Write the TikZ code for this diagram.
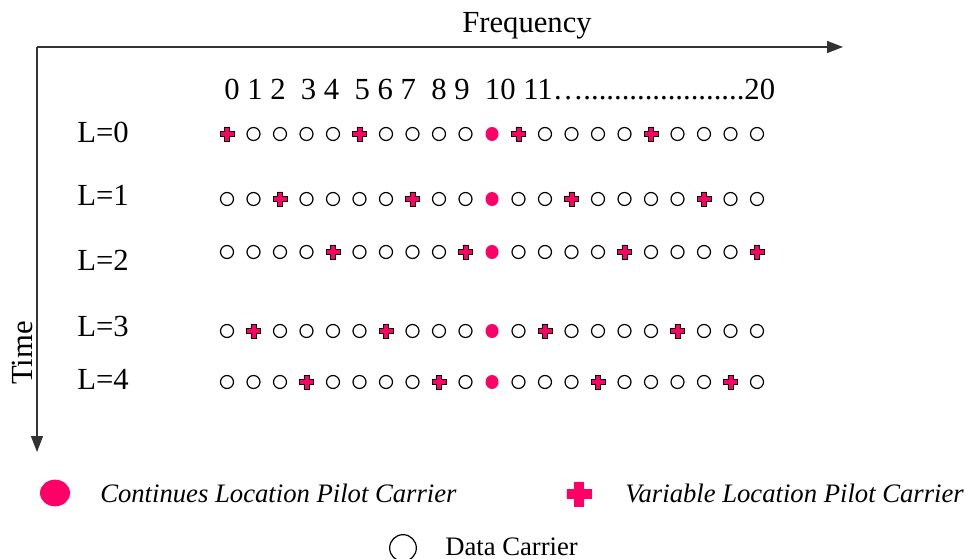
\documentclass[tikz,border=0pt]{standalone}
\usepackage{fontspec}
\setmainfont{Liberation Serif}
\usetikzlibrary{shapes.geometric,arrows.meta}
\definecolor{pilot}{RGB}{255,0,102}

\begin{document}
\begin{tikzpicture}
[every node/.style={inner sep=0pt},
 datac/.style={circle, minimum size=9.75pt, line width=0.9pt, draw=black},
 pilotc/.style={ellipse, minimum width=9.75pt, minimum height=10.5pt, fill=pilot},
 varfill/.style={fill=pilot, draw=black, line width=0.6pt},
 varplus/.pic={\coordinate (-c) at (0pt,0pt);
   \path[varfill] (-5.25pt,-1.9pt) -- (-1.9pt,-1.9pt) -- (-1.9pt,-5.25pt) -- (1.9pt,-5.25pt) -- (1.9pt,-1.9pt) -- (5.25pt,-1.9pt)
     -- (5.25pt,1.9pt) -- (1.9pt,1.9pt) -- (1.9pt,5.25pt) -- (-1.9pt,5.25pt) -- (-1.9pt,1.9pt) -- (-5.25pt,1.9pt) -- cycle;},
 axis/.style={line width=1pt, draw=black!80, -{Triangle[length=12pt, width=9pt]}},
 labeltext/.style={font=\fontsize{23}{28}\selectfont},
 legendtext/.style={font=\fontsize{20}{24}\selectfont}]
\useasboundingbox (0pt,0pt) rectangle (724.5pt,-419.25pt);
% axes
\coordinate (origin) at (27.75pt, -35.25pt);
\coordinate (freqend) at (632.25pt, -35.25pt);
\coordinate (timeend) at (27.75pt, -339.0pt);
\draw [axis] (origin) to (freqend);
\draw [axis] (origin) to (timeend);
\node (freq) [labeltext, anchor=base] at (395.25pt, -24.75pt) {Frequency};
\node (time) [labeltext, anchor=base, rotate=90] at (24.0pt, -264.75pt) {Time};
\node (index) [labeltext, anchor=base west] at (168.0pt, -75.0pt) {0 1 2\ \ 3 4\ \ 5 6 7\ \ 8 9\ \ 10 11….....................20};
% symbol rows
\node (L0) [labeltext, anchor=west] at (57.75pt, -99.0pt) {L=0};
\node (L1) [labeltext, anchor=west] at (57.75pt, -146.25pt) {L=1};
\node (L2) [labeltext, anchor=west] at (57.75pt, -195.0pt) {L=2};
\node (L3) [labeltext, anchor=west] at (57.75pt, -244.5pt) {L=3};
\node (L4) [labeltext, anchor=west] at (57.75pt, -284.25pt) {L=4};
% L=0
\pic (r0-0) at (170.25pt, -100.5pt) {varplus};
\node (r0-1) [datac] at (190.125pt, -100.5pt) {};
\node (r0-2) [datac] at (210.0pt, -100.5pt) {};
\node (r0-3) [datac] at (229.875pt, -100.5pt) {};
\node (r0-4) [datac] at (249.75pt, -100.5pt) {};
\pic (r0-5) at (269.625pt, -100.5pt) {varplus};
\node (r0-6) [datac] at (289.5pt, -100.5pt) {};
\node (r0-7) [datac] at (309.375pt, -100.5pt) {};
\node (r0-8) [datac] at (329.25pt, -100.5pt) {};
\node (r0-9) [datac] at (349.125pt, -100.5pt) {};
\node (r0-10) [pilotc] at (369.0pt, -100.5pt) {};
\pic (r0-11) at (388.875pt, -100.5pt) {varplus};
\node (r0-12) [datac] at (408.75pt, -100.5pt) {};
\node (r0-13) [datac] at (428.625pt, -100.5pt) {};
\node (r0-14) [datac] at (448.5pt, -100.5pt) {};
\node (r0-15) [datac] at (468.375pt, -100.5pt) {};
\pic (r0-16) at (488.25pt, -100.5pt) {varplus};
\node (r0-17) [datac] at (508.125pt, -100.5pt) {};
\node (r0-18) [datac] at (528.0pt, -100.5pt) {};
\node (r0-19) [datac] at (547.875pt, -100.5pt) {};
\node (r0-20) [datac] at (567.75pt, -100.5pt) {};
% L=1
\node (r1-0) [datac] at (170.25pt, -149.25pt) {};
\node (r1-1) [datac] at (190.125pt, -149.25pt) {};
\pic (r1-2) at (210.0pt, -149.25pt) {varplus};
\node (r1-3) [datac] at (229.875pt, -149.25pt) {};
\node (r1-4) [datac] at (249.75pt, -149.25pt) {};
\node (r1-5) [datac] at (269.625pt, -149.25pt) {};
\node (r1-6) [datac] at (289.5pt, -149.25pt) {};
\pic (r1-7) at (309.375pt, -149.25pt) {varplus};
\node (r1-8) [datac] at (329.25pt, -149.25pt) {};
\node (r1-9) [datac] at (349.125pt, -149.25pt) {};
\node (r1-10) [pilotc] at (369.0pt, -149.25pt) {};
\node (r1-11) [datac] at (388.875pt, -149.25pt) {};
\node (r1-12) [datac] at (408.75pt, -149.25pt) {};
\pic (r1-13) at (428.625pt, -149.25pt) {varplus};
\node (r1-14) [datac] at (448.5pt, -149.25pt) {};
\node (r1-15) [datac] at (468.375pt, -149.25pt) {};
\node (r1-16) [datac] at (488.25pt, -149.25pt) {};
\node (r1-17) [datac] at (508.125pt, -149.25pt) {};
\pic (r1-18) at (528.0pt, -149.25pt) {varplus};
\node (r1-19) [datac] at (547.875pt, -149.25pt) {};
\node (r1-20) [datac] at (567.75pt, -149.25pt) {};
% L=2
\node (r2-0) [datac] at (170.25pt, -189.0pt) {};
\node (r2-1) [datac] at (190.125pt, -189.0pt) {};
\node (r2-2) [datac] at (210.0pt, -189.0pt) {};
\node (r2-3) [datac] at (229.875pt, -189.0pt) {};
\pic (r2-4) at (249.75pt, -189.0pt) {varplus};
\node (r2-5) [datac] at (269.625pt, -189.0pt) {};
\node (r2-6) [datac] at (289.5pt, -189.0pt) {};
\node (r2-7) [datac] at (309.375pt, -189.0pt) {};
\node (r2-8) [datac] at (329.25pt, -189.0pt) {};
\pic (r2-9) at (349.125pt, -189.0pt) {varplus};
\node (r2-10) [pilotc] at (369.0pt, -189.0pt) {};
\node (r2-11) [datac] at (388.875pt, -189.0pt) {};
\node (r2-12) [datac] at (408.75pt, -189.0pt) {};
\node (r2-13) [datac] at (428.625pt, -189.0pt) {};
\node (r2-14) [datac] at (448.5pt, -189.0pt) {};
\pic (r2-15) at (468.375pt, -189.0pt) {varplus};
\node (r2-16) [datac] at (488.25pt, -189.0pt) {};
\node (r2-17) [datac] at (508.125pt, -189.0pt) {};
\node (r2-18) [datac] at (528.0pt, -189.0pt) {};
\node (r2-19) [datac] at (547.875pt, -189.0pt) {};
\pic (r2-20) at (567.75pt, -189.0pt) {varplus};
% L=3
\node (r3-0) [datac] at (170.25pt, -248.25pt) {};
\pic (r3-1) at (190.125pt, -248.25pt) {varplus};
\node (r3-2) [datac] at (210.0pt, -248.25pt) {};
\node (r3-3) [datac] at (229.875pt, -248.25pt) {};
\node (r3-4) [datac] at (249.75pt, -248.25pt) {};
\node (r3-5) [datac] at (269.625pt, -248.25pt) {};
\pic (r3-6) at (289.5pt, -248.25pt) {varplus};
\node (r3-7) [datac] at (309.375pt, -248.25pt) {};
\node (r3-8) [datac] at (329.25pt, -248.25pt) {};
\node (r3-9) [datac] at (349.125pt, -248.25pt) {};
\node (r3-10) [pilotc] at (369.0pt, -248.25pt) {};
\node (r3-11) [datac] at (388.875pt, -248.25pt) {};
\pic (r3-12) at (408.75pt, -248.25pt) {varplus};
\node (r3-13) [datac] at (428.625pt, -248.25pt) {};
\node (r3-14) [datac] at (448.5pt, -248.25pt) {};
\node (r3-15) [datac] at (468.375pt, -248.25pt) {};
\node (r3-16) [datac] at (488.25pt, -248.25pt) {};
\pic (r3-17) at (508.125pt, -248.25pt) {varplus};
\node (r3-18) [datac] at (528.0pt, -248.25pt) {};
\node (r3-19) [datac] at (547.875pt, -248.25pt) {};
\node (r3-20) [datac] at (567.75pt, -248.25pt) {};
% L=4
\node (r4-0) [datac] at (170.25pt, -286.5pt) {};
\node (r4-1) [datac] at (190.125pt, -286.5pt) {};
\node (r4-2) [datac] at (210.0pt, -286.5pt) {};
\pic (r4-3) at (229.875pt, -286.5pt) {varplus};
\node (r4-4) [datac] at (249.75pt, -286.5pt) {};
\node (r4-5) [datac] at (269.625pt, -286.5pt) {};
\node (r4-6) [datac] at (289.5pt, -286.5pt) {};
\node (r4-7) [datac] at (309.375pt, -286.5pt) {};
\pic (r4-8) at (329.25pt, -286.5pt) {varplus};
\node (r4-9) [datac] at (349.125pt, -286.5pt) {};
\node (r4-10) [pilotc] at (369.0pt, -286.5pt) {};
\node (r4-11) [datac] at (388.875pt, -286.5pt) {};
\node (r4-12) [datac] at (408.75pt, -286.5pt) {};
\node (r4-13) [datac] at (428.625pt, -286.5pt) {};
\pic (r4-14) at (448.5pt, -286.5pt) {varplus};
\node (r4-15) [datac] at (468.375pt, -286.5pt) {};
\node (r4-16) [datac] at (488.25pt, -286.5pt) {};
\node (r4-17) [datac] at (508.125pt, -286.5pt) {};
\node (r4-18) [datac] at (528.0pt, -286.5pt) {};
\pic (r4-19) at (547.875pt, -286.5pt) {varplus};
\node (r4-20) [datac] at (567.75pt, -286.5pt) {};
% legend
\node (lgpilot) [pilotc, minimum width=22.5pt, minimum height=20pt] at (41.25pt, -369.75pt) {};
\node (lgpilottxt) [legendtext, anchor=west] at (75.0pt, -369.75pt) {\itshape Continues Location Pilot Carrier};
\pic (lgvar) [scale=1.72, varfill/.append style={draw=pilot}] at (434.25pt, -370.5pt) {varplus};
\node (lgvartxt) [legendtext, anchor=west] at (468.75pt, -369.75pt) {\itshape Variable Location Pilot Carrier};
\node (lgdata) [datac, minimum size=20pt] at (302.25pt, -411.0pt) {};
\node (lgdatatxt) [legendtext, anchor=base west] at (333.75pt, -416.25pt) {Data Carrier};
\end{tikzpicture}
\end{document}
